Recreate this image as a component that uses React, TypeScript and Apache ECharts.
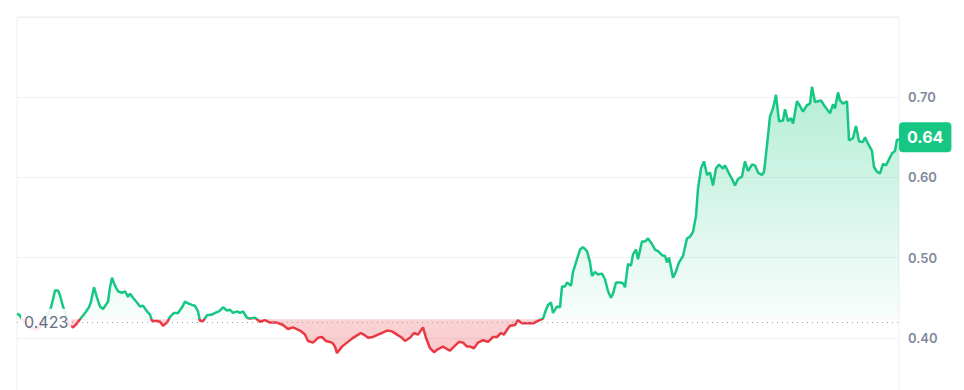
import React, { useEffect, useRef } from "react";
import * as echarts from "echarts";

// time index (10-minute steps from start of the period)
const times: number[] = [
  0, 2, 7, 13, 19, 25, 30, 34, 36, 38, 41, 43, 46, 49, 53, 56, 60, 63, 68, 72,
  74, 77, 80, 83, 86, 91, 93, 95, 98, 101, 105, 108, 111, 113, 116, 120, 123, 126, 130, 133,
  135, 140, 143, 146, 150, 153, 157, 161, 165, 168, 171, 175, 178, 181, 183, 186, 190, 195, 198, 202,
  206, 210, 213, 216, 220, 223, 226, 230, 233, 238, 243, 248, 253, 260, 266, 271, 276, 283, 288, 291,
  296, 301, 305, 309, 315, 318, 320, 325, 330, 335, 340, 344, 348, 351, 356, 361, 365, 370, 375, 380,
  385, 388, 393, 397, 401, 406, 409, 413, 417, 421, 426, 430, 433, 437, 442, 446, 450, 453, 457, 461,
  466, 471, 476, 480, 484, 487, 490, 493, 498, 501, 505, 510, 516, 521, 526, 529, 531, 534, 536, 540,
  543, 545, 548, 550, 554, 556, 560, 563, 566, 570, 573, 575, 578, 581, 585, 588, 591, 594, 596, 599,
  603, 606, 608, 611, 614, 616, 619, 621, 625, 628, 631, 635, 638, 641, 645, 648, 650, 652, 656, 659,
  662, 666, 670, 673, 676, 679, 681, 684, 687, 690, 693, 696, 699, 702, 706, 708, 712, 715, 718, 721,
  725, 728, 731, 735, 738, 741, 745, 747, 750, 753, 756, 759, 762, 766, 768, 771, 774, 776, 780, 783,
  786, 790, 793, 795, 798, 801, 804, 807, 810, 813, 816, 818, 821, 823, 826, 830, 832, 836, 839, 842,
  846, 848, 851, 855, 857, 860, 863, 866, 869, 871, 875, 878, 880, 882,
];

const prices: number[] = [
  0.430, 0.429, 0.420, 0.413, 0.410, 0.415, 0.428, 0.438, 0.448, 0.459, 0.459, 0.453, 0.439, 0.428, 0.415, 0.413, 0.418, 0.423, 0.431, 0.438,
  0.445, 0.463, 0.450, 0.439, 0.436, 0.445, 0.463, 0.475, 0.465, 0.458, 0.456, 0.458, 0.451, 0.455, 0.450, 0.444, 0.439, 0.440, 0.433, 0.429,
  0.421, 0.421, 0.420, 0.415, 0.419, 0.426, 0.431, 0.431, 0.438, 0.445, 0.443, 0.441, 0.440, 0.433, 0.421, 0.421, 0.428, 0.429, 0.431, 0.433,
  0.438, 0.434, 0.435, 0.431, 0.433, 0.431, 0.433, 0.425, 0.424, 0.425, 0.420, 0.422, 0.419, 0.419, 0.416, 0.411, 0.413, 0.409, 0.404, 0.396,
  0.394, 0.400, 0.401, 0.396, 0.394, 0.389, 0.381, 0.389, 0.394, 0.399, 0.403, 0.406, 0.403, 0.400, 0.401, 0.404, 0.406, 0.409, 0.408, 0.404,
  0.400, 0.396, 0.400, 0.406, 0.404, 0.413, 0.400, 0.387, 0.382, 0.386, 0.389, 0.386, 0.384, 0.389, 0.395, 0.394, 0.389, 0.389, 0.387, 0.394,
  0.397, 0.395, 0.401, 0.401, 0.406, 0.404, 0.410, 0.415, 0.416, 0.422, 0.418, 0.418, 0.418, 0.421, 0.424, 0.435, 0.441, 0.444, 0.431, 0.439,
  0.438, 0.464, 0.464, 0.469, 0.465, 0.482, 0.498, 0.510, 0.513, 0.508, 0.494, 0.477, 0.482, 0.479, 0.480, 0.473, 0.458, 0.450, 0.455, 0.469,
  0.469, 0.468, 0.463, 0.492, 0.490, 0.504, 0.510, 0.498, 0.520, 0.520, 0.524, 0.517, 0.510, 0.508, 0.503, 0.502, 0.494, 0.500, 0.475, 0.483,
  0.494, 0.502, 0.524, 0.526, 0.532, 0.552, 0.586, 0.611, 0.620, 0.603, 0.606, 0.590, 0.611, 0.616, 0.611, 0.615, 0.605, 0.598, 0.590, 0.598,
  0.601, 0.620, 0.608, 0.616, 0.615, 0.606, 0.603, 0.607, 0.640, 0.676, 0.686, 0.703, 0.670, 0.671, 0.685, 0.670, 0.674, 0.667, 0.695, 0.689,
  0.682, 0.690, 0.692, 0.713, 0.694, 0.695, 0.696, 0.690, 0.685, 0.680, 0.691, 0.686, 0.706, 0.696, 0.692, 0.695, 0.646, 0.649, 0.664, 0.645,
  0.644, 0.650, 0.642, 0.633, 0.613, 0.607, 0.605, 0.617, 0.615, 0.620, 0.630, 0.633, 0.647, 0.647,
];

const baseline = 0.423;
const yTicks = [0.3, 0.4, 0.5, 0.6, 0.7, 0.8];

const GREEN = "#16c784";
const RED = "#ea3943";

export default function App() {
  const ref = useRef<HTMLDivElement>(null);

  useEffect(() => {
    if (!ref.current) return;
    const chart = echarts.init(ref.current, undefined, { renderer: "svg" });
    const n = Math.min(times.length, prices.length);
    const data = [];
    for (let i = 0; i < n; i++) data.push([times[i], prices[i]]);
    const maxV = Math.max(...prices);
    const minV = Math.min(...prices);
    const split = (maxV - baseline) / (maxV - minV);
    const last = prices[n - 1];

    chart.setOption({
      animation: false,
      grid: {
        left: 9,
        top: 9,
        right: 57,
        height: 401,
        outerBoundsMode: "none",
        containLabel: false,
        show: true,
        borderColor: "#eceff3",
        borderWidth: 1,
      },
      xAxis: {
        type: "value",
        min: 0,
        max: 882,
        show: false,
      },
      yAxis: {
        type: "value",
        position: "right",
        min: yTicks[0],
        max: yTicks[yTicks.length - 1],
        interval: 0.1,
        axisLine: { show: false },
        axisTick: { show: false },
        splitLine: { lineStyle: { color: "#eff2f5", width: 1 } },
        axisLabel: {
          margin: 9,
          color: "#808a9d",
          fontFamily: "Inter",
          fontSize: 13,
          fontWeight: 600,
          formatter: (v: number) => (v > 0.75 || v < 0.35 ? "" : v.toFixed(2)),
        },
      },
      visualMap: {
        type: "piecewise",
        show: false,
        dimension: 1,
        seriesIndex: 0,
        pieces: [
          { gte: 0, lte: baseline, color: RED },
          { gt: baseline, lte: 2, color: GREEN },
        ],
        outOfRange: { color: GREEN },
      },
      series: [
        {
          type: "line",
          data,
          clip: false,
          symbol: "none",
          lineStyle: { width: 2.5 },
          emphasis: { disabled: true },
          areaStyle: {
            origin: baseline,
            opacity: 1,
            color: new echarts.graphic.LinearGradient(0, 0, 0, 1, [
              { offset: 0, color: "rgba(22,199,132,0.32)" },
              { offset: split - 0.0001, color: "rgba(22,199,132,0.03)" },
              { offset: split + 0.0001, color: "rgba(234,57,67,0.22)" },
              { offset: 1, color: "rgba(234,57,67,0.27)" },
            ]),
          },
          markLine: {
            silent: true,
            symbol: ["none", "none"],
            animation: false,
            data: [
              {
                yAxis: baseline,
                lineStyle: { color: "#9aa1ad", type: [1, 4], width: 1 },
                label: {
                  show: true,
                  position: "insideStart",
                  distance: 4,
                  formatter: String(baseline),
                  color: "#616e85",
                  fontFamily: "Inter",
                  fontSize: 16,
                  backgroundColor: "rgba(255,255,255,0.88)",
                  padding: [5, 3],
                },
              },
              {
                yAxis: last,
                lineStyle: { color: "rgba(0,0,0,0)", width: 0 },
                label: {
                  show: true,
                  position: "end",
                  distance: 0,
                  opacity: 1,
                  formatter: (Math.floor(last * 100) / 100).toFixed(2),
                  color: "#ffffff",
                  fontFamily: "Inter",
                  fontSize: 16,
                  fontWeight: 700,
                  backgroundColor: GREEN,
                  borderRadius: 4,
                  padding: [7, 8],
                },
              },
            ],
          },
        },
      ],
    });
    return () => chart.dispose();
  }, []);

  return <div ref={ref} style={{ width: 948, height: 382 }} />;
}
